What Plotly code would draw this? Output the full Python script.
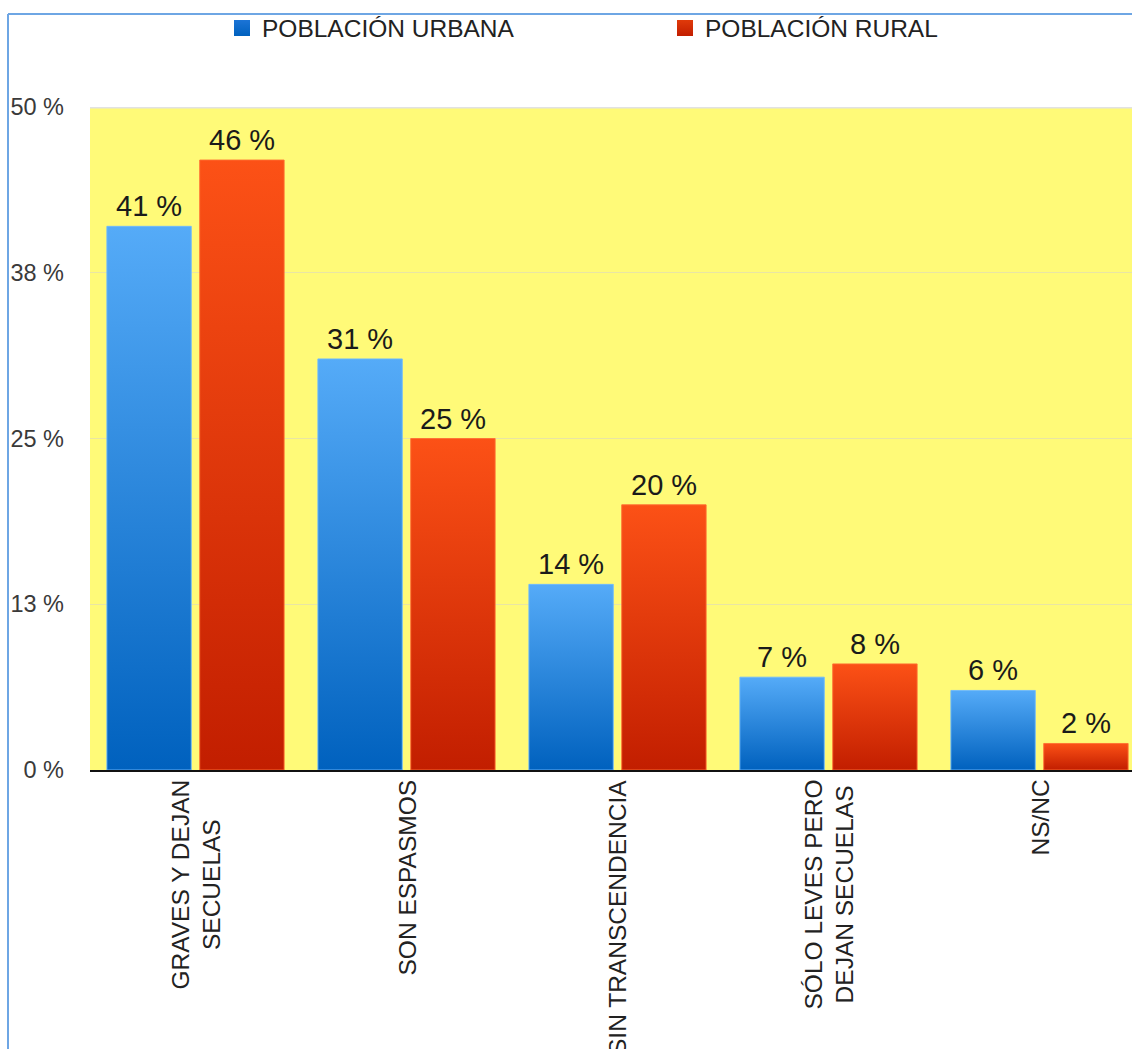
import plotly.graph_objects as go

# Survey results: perception of seizures, urban vs rural population
categories = [
    "GRAVES Y DEJAN<br>SECUELAS",
    "SON ESPASMOS",
    "SIN TRANSCENDENCIA",
    "SÓLO LEVES PERO<br>DEJAN SECUELAS",
    "NS/NC",
]
urbana = [41, 31, 14, 7, 6]
rural = [46, 25, 20, 8, 2]

series_names = ["POBLACIÓN URBANA", "POBLACIÓN RURAL"]
y_tickvals = [0, 12.5, 25, 37.5, 50]
y_ticktext = ["0 %", "13 %", "25 %", "38 %", "50 %"]

FONT = "Liberation Sans, Arial, Helvetica, sans-serif"
W, H = 1132, 1049
ML, MT, MB = 90, 107, 279
PW = W - ML
PH = H - MT - MB

# per-series style: (offset within group, top colour, bottom colour, edge colour, legend colour)
styles = [
    (-0.22, "#55abf8", "#0061be", "rgba(110,185,255,0.9)", "#1c74d6"),
    (0.22, "#fc5116", "#c21e00", "rgba(255,110,50,0.9)", "#e03a0a"),
]
BAR_W = 0.40

fig = go.Figure()

annotations = []
for values, name, (off, top_c, bot_c, edge_c, leg_c) in zip([urbana, rural], series_names, styles):
    for i, v in enumerate(values):
        x0 = i + off - BAR_W / 2
        x1 = i + off + BAR_W / 2
        fig.add_trace(go.Scatter(
            x=[x0, x1, x1, x0, x0],
            y=[0, 0, v, v, 0],
            mode="lines",
            fill="toself",
            fillgradient=dict(type="vertical", colorscale=[[0, bot_c], [1, top_c]]),
            line=dict(color=edge_c, width=1),
            hoverinfo="skip",
            showlegend=False,
        ))
        annotations.append(dict(
            x=i + off, y=v, xref="x", yref="y",
            text=f"{v} %", showarrow=False,
            yanchor="bottom", yshift=2,
            font=dict(family=FONT, size=29, color="#1a1a1a"),
        ))
    # legend entry
    fig.add_trace(go.Scatter(
        x=[None], y=[None], mode="markers", name=name,
        marker=dict(symbol="square", size=20, color=leg_c,
                    gradient=dict(type="vertical", color=bot_c),
                    line=dict(width=0)),
    ))

# category labels, rotated and centred under each group
for i, c in enumerate(categories):
    annotations.append(dict(
        x=i, y=0, xref="x", yref="paper",
        text=c, showarrow=False, textangle=-90,
        xanchor="center", yanchor="top", yshift=-8, align="center",
        font=dict(family=FONT, size=24.5, color="#222222"),
    ))

px_to_xpaper = lambda px: (px - ML) / PW
px_to_ypaper = lambda py: (H - MB - py) / PH

shapes = [
    # light rule along the top of the plot area
    dict(type="line", xref="paper", yref="y", x0=0, x1=1, y0=50, y1=50,
         line=dict(color="#e2e2e2", width=3)),
    # outer frame (left and top edges)
    dict(type="line", xref="paper", yref="paper",
         x0=px_to_xpaper(8), x1=px_to_xpaper(8), y0=px_to_ypaper(14), y1=px_to_ypaper(H + 20),
         line=dict(color="#6ea6e4", width=2)),
    dict(type="line", xref="paper", yref="paper",
         x0=px_to_xpaper(8), x1=px_to_xpaper(W + 20), y0=px_to_ypaper(14), y1=px_to_ypaper(14),
         line=dict(color="#6ea6e4", width=2)),
]

fig.update_layout(
    width=W, height=H,
    margin=dict(l=ML, r=0, t=MT, b=MB, pad=0),
    paper_bgcolor="white",
    plot_bgcolor="#fffa78",
    font=dict(family=FONT, color="#222222"),
    showlegend=True,
    legend=dict(
        orientation="h", x=px_to_xpaper(222), xanchor="left",
        y=px_to_ypaper(28), yanchor="middle",
        font=dict(family=FONT, size=24.5, color="#222222"),
        entrywidth=398, itemsizing="trace",
        bgcolor="rgba(0,0,0,0)",
    ),
    xaxis=dict(
        range=[-0.5, (W - ML) / 211 - 0.5],
        showticklabels=False, showgrid=False, zeroline=False,
        showline=True, linecolor="#111111", linewidth=2,
        fixedrange=True,
    ),
    yaxis=dict(
        range=[0, 50], tickvals=y_tickvals, ticktext=y_ticktext,
        ticks="", ticklabelstandoff=25,
        tickfont=dict(family=FONT, size=23.5, color="#3a3a3a"),
        showgrid=True, gridcolor="#e9e5a4", gridwidth=1,
        zeroline=False, showline=False, fixedrange=True,
    ),
    annotations=annotations,
    shapes=shapes,
)

fig.write_html("out.html")
